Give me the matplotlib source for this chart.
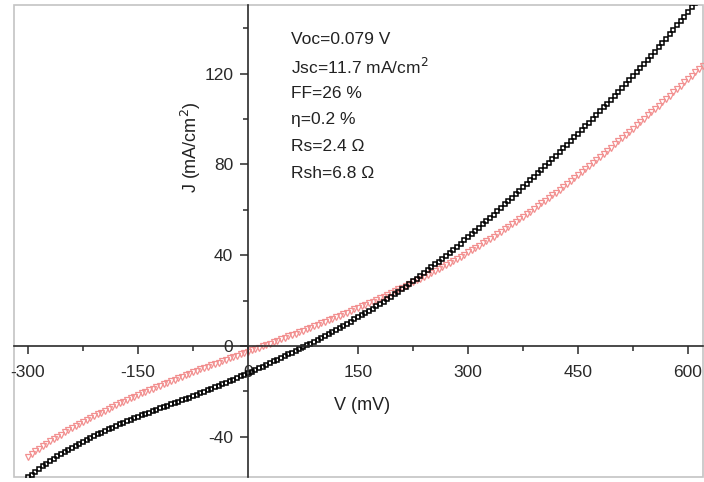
import matplotlib.pyplot as plt
from matplotlib.patches import Rectangle
from matplotlib.ticker import MultipleLocator

plt.rcParams['font.family'] = ['Liberation Sans', 'DejaVu Sans']
plt.rcParams['axes.unicode_minus'] = False

# voltage sweep in mV, 5 mV steps
voltage = list(range(-300, 625, 5))

# dark curve (black squares), J in mA/cm2
j_dark = [
    -57.9, -56.6, -55.3, -54.1, -53.0, -51.8, -50.7, -49.6, -48.6, -47.6,
    -46.6, -45.7, -44.8, -43.9, -43.0, -42.1, -41.3, -40.5, -39.7, -38.9,
    -38.1, -37.4, -36.7, -35.9, -35.2, -34.5, -33.9, -33.2, -32.5, -31.9,
    -31.3, -30.6, -30.0, -29.4, -28.8, -28.2, -27.5, -26.9, -26.3, -25.7,
    -25.1, -24.5, -23.9, -23.3, -22.7, -22.1, -21.4, -20.8, -20.2, -19.5,
    -18.9, -18.2, -17.6, -16.9, -16.2, -15.5, -14.8, -14.1, -13.4, -12.7,
    -12.0, -11.3, -10.5, -9.8, -9.1, -8.3, -7.6, -6.8, -6.0, -5.3,
    -4.5, -3.7, -2.9, -2.1, -1.3, -0.5, 0.3, 1.1, 1.9, 2.8,
    3.6, 4.5, 5.3, 6.2, 7.1, 8.0, 8.9, 9.8, 10.7, 11.7,
    12.6, 13.6, 14.6, 15.5, 16.5, 17.6, 18.6, 19.6, 20.7, 21.8,
    22.9, 24.0, 25.1, 26.2, 27.4, 28.6, 29.7, 30.9, 32.2, 33.4,
    34.6, 35.9, 37.2, 38.4, 39.7, 41.1, 42.4, 43.7, 45.1, 46.5,
    47.9, 49.3, 50.7, 52.1, 53.6, 55.0, 56.5, 57.9, 59.4, 60.9,
    62.4, 63.9, 65.4, 66.9, 68.4, 69.9, 71.5, 73.0, 74.5, 76.1,
    77.6, 79.2, 80.7, 82.3, 83.9, 85.5, 87.1, 88.7, 90.3, 91.9,
    93.5, 95.1, 96.8, 98.4, 100.1, 101.7, 103.4, 105.1, 106.7, 108.4,
    110.1, 111.8, 113.6, 115.3, 117.0, 118.8, 120.6, 122.4, 124.2, 126.0,
    127.9, 129.7, 131.6, 133.5, 135.4, 137.3, 139.2, 141.2, 143.2, 145.1,
    147.1, 149.2, 151.2, 153.2, 155.2,
]

# light curve (red triangles)
j_light = [
    -48.8, -47.6, -46.4, -45.3, -44.2, -43.1, -42.0, -41.0, -40.0, -39.0,
    -38.0, -37.1, -36.1, -35.2, -34.3, -33.4, -32.6, -31.7, -30.9, -30.1,
    -29.3, -28.5, -27.7, -26.9, -26.1, -25.3, -24.6, -23.8, -23.1, -22.4,
    -21.6, -20.9, -20.2, -19.5, -18.8, -18.1, -17.4, -16.7, -16.1, -15.4,
    -14.8, -14.1, -13.5, -12.8, -12.2, -11.6, -10.9, -10.3, -9.7, -9.1,
    -8.5, -7.9, -7.3, -6.7, -6.1, -5.5, -4.9, -4.3, -3.7, -3.1,
    -2.5, -1.9, -1.3, -0.7, -0.1, 0.5, 1.1, 1.8, 2.4, 3.0,
    3.6, 4.3, 4.9, 5.5, 6.1, 6.8, 7.4, 8.1, 8.7, 9.4,
    10.0, 10.7, 11.3, 12.0, 12.6, 13.3, 14.0, 14.7, 15.4, 16.1,
    16.8, 17.5, 18.2, 18.9, 19.6, 20.3, 21.1, 21.8, 22.6, 23.4,
    24.1, 24.9, 25.7, 26.5, 27.3, 28.1, 28.9, 29.7, 30.6, 31.4,
    32.3, 33.1, 34.0, 34.8, 35.7, 36.6, 37.5, 38.4, 39.4, 40.3,
    41.3, 42.2, 43.2, 44.2, 45.2, 46.2, 47.2, 48.2, 49.3, 50.3,
    51.4, 52.5, 53.6, 54.7, 55.8, 56.9, 58.1, 59.2, 60.4, 61.6,
    62.8, 64.0, 65.2, 66.4, 67.6, 68.9, 70.1, 71.4, 72.7, 74.0,
    75.3, 76.6, 77.9, 79.2, 80.5, 81.9, 83.2, 84.6, 86.0, 87.4,
    88.8, 90.2, 91.6, 93.0, 94.4, 95.8, 97.2, 98.7, 100.1, 101.6,
    103.0, 104.5, 105.9, 107.4, 108.8, 110.3, 111.7, 113.2, 114.7, 116.2,
    117.6, 119.1, 120.6, 122.0, 123.5,
]

stats = ['Voc=0.079 V', 'Jsc=11.7 mA/cm$^2$', 'FF=26 %',
         'η=0.2 %', 'Rs=2.4 Ω', 'Rsh=6.8 Ω']

fig = plt.figure(figsize=(7.04, 4.82), dpi=100)
ax = fig.add_axes([14 / 704, 5 / 482, 689 / 704, 472 / 482])

ax.plot(voltage, j_light, ls='none', marker='v', ms=4.4, mfc='none',
        mec='#f29090', mew=0.9)
ax.plot(voltage, j_dark, ls='none', marker='s', ms=3.0, mfc='none',
        mec='black', mew=1.1)

ax.set_xlim(-319, 620.5)
ax.set_ylim(-57.7, 150.2)

# axes cross at the origin
for side in ['top', 'right']:
    ax.spines[side].set_visible(False)
for side in ['left', 'bottom']:
    ax.spines[side].set_position(('data', 0))
    ax.spines[side].set_color('#2a2a2a')
    ax.spines[side].set_linewidth(1.2)

# light grey frame around the plot area
ax.add_patch(Rectangle((0, 0), 1, 1, transform=ax.transAxes, fill=False,
                       edgecolor='#c4c4c4', lw=1.2, clip_on=False))

ax.xaxis.set_major_locator(MultipleLocator(150))
ax.xaxis.set_minor_locator(MultipleLocator(75))
ax.yaxis.set_major_locator(MultipleLocator(40))
ax.yaxis.set_minor_locator(MultipleLocator(20))
ax.tick_params(which='both', direction='out', width=1.1, colors='#2a2a2a',
               labelsize=12.5)
ax.tick_params(which='major', length=6)
ax.tick_params(which='minor', length=3.5)
ax.tick_params(axis='x', pad=7.5)
ax.tick_params(axis='y', pad=4.5)

ax.set_xlabel('V (mV)', fontsize=13, color='#222222')
ax.xaxis.set_label_coords(0.505, 0.17)
ax.set_ylabel('J (mA/cm$^2$)', fontsize=13, color='#222222')
ax.yaxis.set_label_coords(0.274, 0.699)

for i, line in enumerate(stats):
    ax.text(0.402, 0.926 - i * 0.0565, line, transform=ax.transAxes,
            fontsize=12.5, va='center', ha='left', color='#222222')

fig.savefig('out.png', dpi=100)
